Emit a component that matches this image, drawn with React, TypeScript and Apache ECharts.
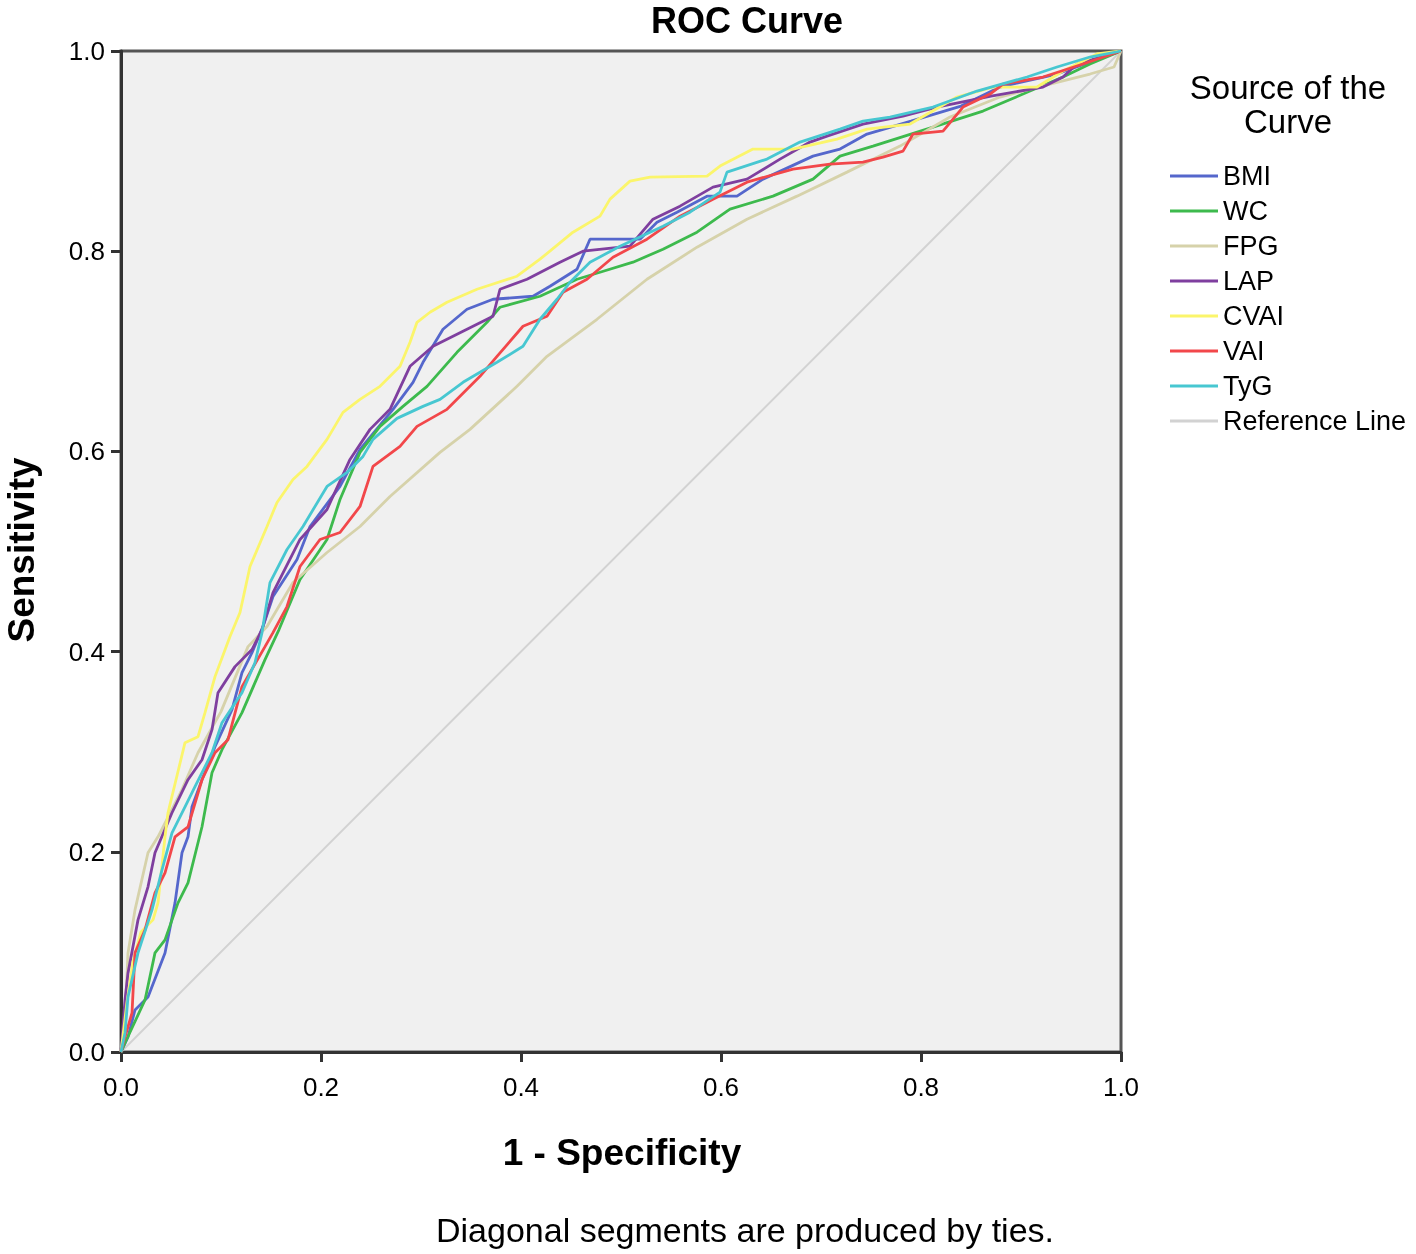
import React, { useEffect, useRef } from "react";
import * as echarts from "echarts";

const seriesNames = ["BMI", "WC", "FPG", "LAP", "CVAI", "VAI", "TyG", "Reference Line"];
const seriesColors = ["#5567cc", "#3dba4d", "#d6d2aa", "#7f3f9f", "#fbf56b", "#f2474a", "#47c7d1", "#d2d2d2"];

const bmi: number[][] = [[0,0],[0.007,0.015],[0.014,0.042],[0.027,0.055],[0.044,0.099],[0.054,0.149],[0.061,0.199],[0.067,0.215],[0.071,0.245],[0.081,0.272],[0.094,0.305],[0.111,0.342],[0.121,0.379],[0.131,0.399],[0.142,0.425],[0.152,0.455],[0.176,0.492],[0.189,0.525],[0.219,0.565],[0.239,0.602],[0.272,0.642],[0.292,0.669],[0.302,0.689],[0.322,0.722],[0.346,0.742],[0.372,0.752],[0.412,0.755],[0.429,0.765],[0.456,0.782],[0.469,0.812],[0.519,0.812],[0.536,0.829],[0.556,0.839],[0.586,0.855],[0.616,0.855],[0.642,0.872],[0.692,0.895],[0.719,0.902],[0.746,0.917],[0.79,0.93],[0.84,0.945],[0.879,0.964],[0.936,0.977],[1,1]];
const wc: number[][] = [[0,0],[0.004,0.009],[0.024,0.052],[0.034,0.099],[0.044,0.112],[0.057,0.149],[0.067,0.169],[0.081,0.225],[0.091,0.279],[0.101,0.302],[0.121,0.339],[0.144,0.392],[0.158,0.422],[0.179,0.472],[0.206,0.512],[0.219,0.552],[0.239,0.599],[0.259,0.625],[0.282,0.645],[0.306,0.665],[0.336,0.699],[0.366,0.729],[0.379,0.744],[0.419,0.755],[0.456,0.772],[0.479,0.779],[0.512,0.789],[0.542,0.802],[0.576,0.819],[0.609,0.842],[0.652,0.855],[0.692,0.872],[0.719,0.895],[0.752,0.905],[0.812,0.924],[0.862,0.94],[0.909,0.96],[0.942,0.974],[0.969,0.987],[1,1]];
const fpg: number[][] = [[0,0],[0.004,0.032],[0.007,0.099],[0.014,0.142],[0.027,0.199],[0.037,0.215],[0.06,0.26],[0.077,0.299],[0.1,0.34],[0.127,0.405],[0.146,0.425],[0.172,0.469],[0.206,0.499],[0.239,0.525],[0.269,0.555],[0.319,0.599],[0.349,0.622],[0.396,0.665],[0.426,0.695],[0.476,0.732],[0.526,0.772],[0.576,0.804],[0.626,0.832],[0.676,0.855],[0.726,0.879],[0.779,0.905],[0.829,0.934],[0.879,0.954],[0.929,0.967],[0.969,0.977],[0.993,0.984],[1,1]];
const lap: number[][] = [[0,0],[0.004,0.052],[0.007,0.079],[0.017,0.132],[0.027,0.165],[0.034,0.199],[0.051,0.239],[0.067,0.272],[0.081,0.292],[0.091,0.322],[0.097,0.359],[0.114,0.385],[0.131,0.402],[0.141,0.422],[0.152,0.459],[0.179,0.512],[0.206,0.542],[0.229,0.592],[0.249,0.622],[0.269,0.642],[0.289,0.685],[0.312,0.705],[0.346,0.722],[0.372,0.735],[0.379,0.762],[0.406,0.772],[0.439,0.789],[0.462,0.8],[0.509,0.805],[0.532,0.832],[0.559,0.845],[0.592,0.864],[0.626,0.872],[0.659,0.892],[0.689,0.909],[0.706,0.915],[0.742,0.927],[0.782,0.935],[0.816,0.944],[0.87,0.955],[0.922,0.964],[0.942,0.974],[0.956,0.987],[1,1]];
const cvai: number[][] = [[0,0],[0.006,0.05],[0.012,0.09],[0.02,0.12],[0.032,0.132],[0.037,0.149],[0.044,0.215],[0.047,0.239],[0.064,0.309],[0.077,0.315],[0.084,0.339],[0.094,0.375],[0.109,0.415],[0.119,0.439],[0.129,0.485],[0.146,0.525],[0.156,0.549],[0.172,0.572],[0.186,0.585],[0.206,0.612],[0.222,0.639],[0.239,0.652],[0.259,0.665],[0.279,0.685],[0.289,0.709],[0.296,0.729],[0.309,0.739],[0.326,0.749],[0.356,0.762],[0.396,0.775],[0.419,0.792],[0.452,0.819],[0.479,0.835],[0.489,0.852],[0.509,0.87],[0.529,0.874],[0.586,0.875],[0.599,0.885],[0.632,0.902],[0.672,0.902],[0.716,0.912],[0.746,0.922],[0.789,0.927],[0.836,0.954],[0.872,0.964],[0.916,0.964],[0.942,0.98],[0.976,0.997],[1,1]];
const vai: number[][] = [[0,0],[0.004,0.015],[0.011,0.039],[0.014,0.099],[0.024,0.122],[0.034,0.159],[0.044,0.179],[0.054,0.215],[0.067,0.225],[0.081,0.272],[0.094,0.299],[0.107,0.312],[0.121,0.365],[0.144,0.405],[0.152,0.419],[0.166,0.445],[0.179,0.485],[0.199,0.512],[0.219,0.519],[0.239,0.545],[0.252,0.585],[0.279,0.605],[0.296,0.625],[0.326,0.642],[0.359,0.675],[0.376,0.695],[0.402,0.725],[0.426,0.735],[0.442,0.759],[0.466,0.772],[0.492,0.794],[0.526,0.812],[0.559,0.835],[0.592,0.852],[0.626,0.869],[0.672,0.882],[0.709,0.887],[0.742,0.889],[0.762,0.894],[0.782,0.9],[0.792,0.917],[0.822,0.92],[0.842,0.944],[0.869,0.957],[0.882,0.967],[0.922,0.974],[0.962,0.987],[1,1]];
const tyg: number[][] = [[0,0],[0.004,0.019],[0.007,0.055],[0.017,0.099],[0.031,0.142],[0.041,0.182],[0.051,0.219],[0.064,0.245],[0.074,0.265],[0.091,0.299],[0.101,0.329],[0.121,0.359],[0.134,0.389],[0.141,0.419],[0.149,0.469],[0.166,0.502],[0.182,0.525],[0.206,0.565],[0.226,0.579],[0.242,0.595],[0.252,0.612],[0.276,0.633],[0.302,0.645],[0.319,0.652],[0.342,0.669],[0.376,0.689],[0.402,0.705],[0.419,0.732],[0.436,0.752],[0.449,0.769],[0.469,0.789],[0.499,0.805],[0.542,0.825],[0.569,0.839],[0.599,0.859],[0.606,0.879],[0.646,0.892],[0.679,0.909],[0.719,0.922],[0.742,0.93],[0.769,0.934],[0.812,0.944],[0.856,0.96],[0.906,0.974],[0.936,0.984],[0.969,0.994],[1,1]];
const referenceLine: number[][] = [[0,0],[1,1]];

const seriesData = [bmi, wc, fpg, lap, cvai, vai, tyg, referenceLine];
const axisTicks = [0, 0.2, 0.4, 0.6, 0.8, 1.0];

const FONT = "'Liberation Sans', Arial, sans-serif";

export default function App() {
  const ref = useRef<HTMLDivElement>(null);
  useEffect(() => {
    if (!ref.current) return;
    const chart = echarts.init(ref.current, undefined, { renderer: "svg" });
    const order = [7, 0, 1, 2, 3, 4, 5, 6];
    chart.setOption({
      animation: false,
      textStyle: { fontFamily: FONT },
      grid: {
        left: 121, top: 51, width: 1000, height: 1001,
        show: true, backgroundColor: "#f0f0f0", borderColor: "#555", borderWidth: 3,
      },
      xAxis: {
        type: "value", min: axisTicks[0], max: axisTicks[axisTicks.length - 1], interval: 0.2,
        axisLine: { show: true, lineStyle: { color: "#333", width: 3 } },
        axisTick: { show: true, inside: false, length: 10, lineStyle: { color: "#333", width: 3 } },
        axisLabel: { margin: 22, fontSize: 26, color: "#000", fontFamily: FONT, formatter: (v: number) => v.toFixed(1) },
        splitLine: { show: false },
      },
      yAxis: {
        type: "value", min: axisTicks[0], max: axisTicks[axisTicks.length - 1], interval: 0.2,
        axisLine: { show: true, lineStyle: { color: "#333", width: 3 } },
        axisTick: { show: true, inside: false, length: 10, lineStyle: { color: "#333", width: 3 } },
        axisLabel: { margin: 16, fontSize: 26, color: "#000", fontFamily: FONT, formatter: (v: number) => v.toFixed(1) },
        splitLine: { show: false },
      },
      legend: {
        orient: "vertical", left: 1165, top: 157,
        icon: "rect", itemWidth: 48, itemHeight: 3, itemGap: 7,
        data: seriesNames,
        textStyle: { fontSize: 27, lineHeight: 28, color: "#000", fontFamily: FONT },
      },
      series: order.map((i) => ({
        name: seriesNames[i],
        type: "line",
        data: seriesData[i],
        showSymbol: false,
        symbol: "none",
        lineStyle: { color: seriesColors[i], width: i === 7 ? 2 : 2.8 },
        itemStyle: { color: seriesColors[i] },
        z: i === 7 ? 1 : 2,
      })),
      graphic: [
        { type: "text", x: 747, y: 20, style: { text: "ROC Curve", font: `bold 36px ${FONT}`, fill: "#000", textAlign: "center", textVerticalAlign: "middle" } },
        { type: "text", x: 622, y: 1152, style: { text: "1 - Specificity", font: `bold 37px ${FONT}`, fill: "#000", textAlign: "center", textVerticalAlign: "middle" } },
        { type: "text", x: 21, y: 550, rotation: Math.PI / 2, style: { text: "Sensitivity", font: `bold 37px ${FONT}`, fill: "#000", textAlign: "center", textVerticalAlign: "middle" } },
        { type: "text", x: 745, y: 1230, style: { text: "Diagonal segments are produced by ties.", font: `34px ${FONT}`, fill: "#000", textAlign: "center", textVerticalAlign: "middle" } },
        { type: "text", x: 1288, y: 104, style: { text: "Source of the\nCurve", font: `33px ${FONT}`, lineHeight: 34, fill: "#000", textAlign: "center", textVerticalAlign: "middle" } },
      ],
    });
    return () => chart.dispose();
  }, []);
  return <div ref={ref} style={{ position: "fixed", left: 0, top: 0, width: 1416, height: 1254 }} />;
}
